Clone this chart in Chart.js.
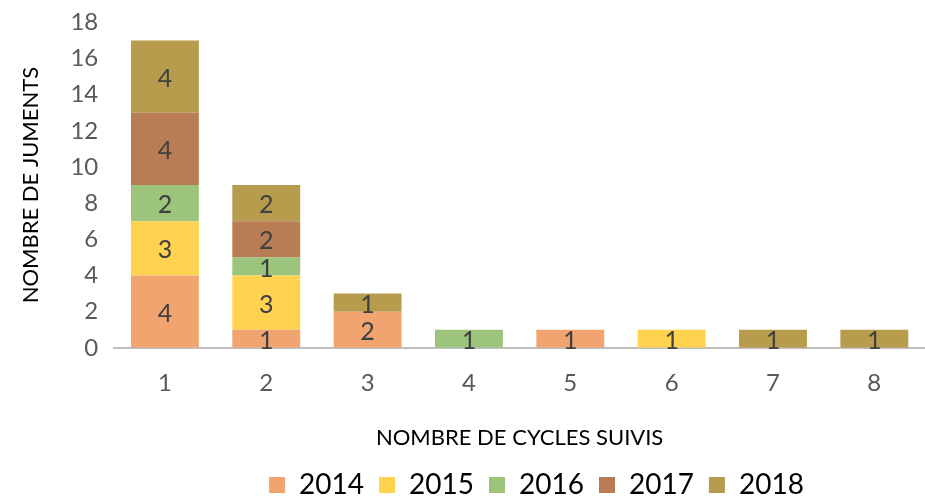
<!DOCTYPE html>
<html>
<head>
<meta charset="utf-8">
<script src="https://cdn.jsdelivr.net/npm/chart.js@4"></script>
<style>
  html, body { margin: 0; padding: 0; background: #fff; }
  #wrap { width: 925px; height: 498px; }
</style>
</head>
<body>
<div id="wrap"><canvas id="myChart" width="925" height="498"></canvas></div>
<script>
const cycles = ['1', '2', '3', '4', '5', '6', '7', '8'];
const annees = ['2014', '2015', '2016', '2017', '2018'];
const juments2014 = [4, 1, 2, 0, 1, 0, 0, 0];
const juments2015 = [3, 3, 0, 0, 0, 1, 0, 0];
const juments2016 = [2, 1, 0, 1, 0, 0, 0, 0];
const juments2017 = [4, 2, 0, 0, 0, 0, 0, 0];
const juments2018 = [4, 2, 1, 0, 0, 0, 1, 1];
const couleurs = ['#F1A46F', '#FFD24F', '#9CC47C', '#B97D54', '#B79C4E'];

const valeurs = [juments2014, juments2015, juments2016, juments2017, juments2018];
const police = 'Lato, "Liberation Sans", sans-serif';

// étiquettes centrées dans chaque segment
const etiquettes = {
    id: 'etiquettes',
    afterDatasetsDraw(chart) {
        const ctx = chart.ctx;
        ctx.save();
        ctx.font = '25px ' + police;
        ctx.fillStyle = '#404040';
        ctx.textAlign = 'center';
        ctx.textBaseline = 'middle';
        chart.data.datasets.forEach((ds, i) => {
            const meta = chart.getDatasetMeta(i);
            meta.data.forEach((bar, j) => {
                if (!ds.data[j]) return;
                ctx.fillText(ds.data[j], bar.x, (bar.y + bar.base) / 2 + 2);
            });
        });
        ctx.restore();
    }
};

// la légende est un peu décalée vers la droite dans l'original
const decalageLegende = {
    id: 'decalageLegende',
    afterLayout(chart) {
        chart.legend.left += 130;
    }
};

new Chart(document.getElementById('myChart').getContext('2d'), {
    type: 'bar',
    data: {
        labels: cycles,
        datasets: annees.map((a, i) => ({
            label: a,
            data: valeurs[i],
            backgroundColor: couleurs[i],
            borderWidth: 0,
            barPercentage: 0.67,
            categoryPercentage: 1
        }))
    },
    options: {
        responsive: false,
        animation: false,
        layout: { padding: { left: 18, right: 0, top: 12, bottom: -11 } },
        plugins: {
            tooltip: { enabled: false },
            legend: {
                position: 'bottom',
                labels: {
                    boxWidth: 16,
                    boxHeight: 16,
                    padding: 15,
                    color: '#000',
                    font: { family: police, size: 28 }
                }
            }
        },
        scales: {
            x: {
                stacked: true,
                grid: { display: false },
                border: { color: '#BFBFBF', width: 2 },
                ticks: { color: '#595959', font: { family: police, size: 24 }, padding: 13 },
                title: {
                    display: true,
                    text: 'NOMBRE DE CYCLES SUIVIS',
                    color: '#000',
                    font: { family: police, size: 22 },
                    padding: { top: 14, bottom: 5 }
                }
            },
            y: {
                stacked: true,
                min: 0,
                max: 18,
                grid: { display: false },
                border: { display: false },
                ticks: { stepSize: 2, color: '#595959', font: { family: police, size: 24 }, padding: 8 },
                title: {
                    display: true,
                    text: 'NOMBRE DE JUMENTS',
                    color: '#000',
                    font: { family: police, size: 22 },
                    padding: { top: 0, bottom: 18 }
                }
            }
        }
    },
    plugins: [etiquettes, decalageLegende]
});
</script>
</body>
</html>
